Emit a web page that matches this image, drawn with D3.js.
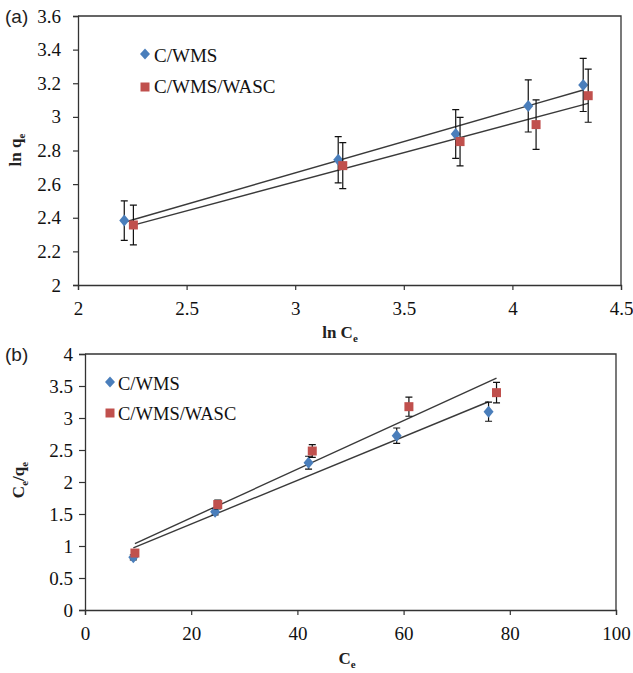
<!DOCTYPE html>
<html>
<head>
<meta charset="utf-8">
<script src="https://cdn.jsdelivr.net/npm/d3@7"></script>
<style>
  body { margin: 0; background: #fff; }
  svg { display: block; }
</style>
</head>
<body>
<svg id="chart" width="633" height="673"></svg>
<script>
// ---------- DATA ----------
const seriesNames = ["C/WMS", "C/WMS/WASC"];
const seriesColors = ["#4a7ebb", "#c0504d"];

// Panel (a): ln qe vs ln Ce
const aTicksX = [2, 2.5, 3, 3.5, 4, 4.5];
const aTicksY = [2, 2.2, 2.4, 2.6, 2.8, 3, 3.2, 3.4, 3.6];
const aWmsX = [2.213, 3.198, 3.739, 4.073, 4.326];
const aWmsY = [2.383, 2.745, 2.898, 3.065, 3.190];
const aWmsErr = [0.117, 0.137, 0.145, 0.155, 0.158];
const aWascX = [2.255, 3.219, 3.759, 4.109, 4.349];
const aWascY = [2.357, 2.710, 2.853, 2.954, 3.126];
const aWascErr = [0.118, 0.137, 0.144, 0.147, 0.158];

// Panel (b): Ce/qe vs Ce
const bTicksX = [0, 20, 40, 60, 80, 100];
const bTicksY = [0, 0.5, 1, 1.5, 2, 2.5, 3, 3.5, 4];
const bWmsX = [9.1, 24.5, 42.1, 58.7, 76.0];
const bWmsY = [0.823, 1.536, 2.302, 2.724, 3.099];
const bWmsErr = [0.04, 0.05, 0.10, 0.12, 0.15];
const bWascX = [9.4, 25.0, 42.8, 61.0, 77.5];
const bWascY = [0.890, 1.648, 2.484, 3.177, 3.396];
const bWascErr = [0.04, 0.07, 0.10, 0.15, 0.16];

// ---------- DRAW ----------
const svg = d3.select("#chart");
const serif = "Liberation Serif";
const sans = "Liberation Sans";
const axisColor = "#333";

function linFit(xs, ys) {
  const n = xs.length;
  const mx = d3.mean(xs), my = d3.mean(ys);
  let sxy = 0, sxx = 0;
  for (let i = 0; i < n; i++) { sxy += (xs[i]-mx)*(ys[i]-my); sxx += (xs[i]-mx)**2; }
  const b = sxy / sxx;
  return x => my + b*(x - mx);
}

function panel(cfg) {
  const g = svg.append("g");
  const x = d3.scaleLinear().domain(d3.extent(cfg.ticksX)).range([cfg.left, cfg.right]);
  const y = d3.scaleLinear().domain(d3.extent(cfg.ticksY)).range([cfg.bottom, cfg.top]);

  // axes
  const ax = g.append("g").attr("transform", `translate(0,${cfg.bottom})`)
    .call(d3.axisBottom(x).tickValues(cfg.ticksX).tickSize(5).tickPadding(12).tickFormat(d => String(d)));
  const ay = g.append("g").attr("transform", `translate(${cfg.left},0)`)
    .call(d3.axisLeft(y).tickValues(cfg.ticksY).tickSize(cfg.yTick).tickPadding(cfg.yPad).tickFormat(d => String(d)));
  [ax, ay].forEach(a => {
    a.attr("font-family", null).attr("font-size", null);
    a.select(".domain").attr("stroke", axisColor).attr("stroke-width", 1.3);
    a.selectAll(".tick line").attr("stroke", axisColor).attr("stroke-width", 1.2);
    a.selectAll(".tick text").attr("fill", "#111")
      .style("font-family", serif).style("font-size", "19px");
  });
  // box top/right
  g.append("path")
    .attr("d", `M${cfg.left},${cfg.top}H${cfg.right}V${cfg.bottom}`)
    .attr("fill", "none").attr("stroke", axisColor).attr("stroke-width", 1.3);

  // trend lines
  cfg.series.forEach(s => {
    const f = linFit(s.x, s.y);
    const [x0, x1] = d3.extent(s.x);
    g.append("line")
      .attr("x1", x(x0)).attr("y1", y(f(x0)))
      .attr("x2", x(x1)).attr("y2", y(f(x1)))
      .attr("stroke", "#3a3a3a").attr("stroke-width", 1.4);
  });

  // error bars + markers
  cfg.series.forEach((s, si) => {
    s.x.forEach((xv, i) => {
      const px = x(xv), yt = y(s.y[i] + s.err[i]), yb = y(s.y[i] - s.err[i]);
      g.append("path")
        .attr("d", `M${px},${yt}V${yb}M${px-3.5},${yt}H${px+3.5}M${px-3.5},${yb}H${px+3.5}`)
        .attr("fill", "none").attr("stroke", "#111").attr("stroke-width", 1.2);
    });
    g.selectAll(null).data(s.x.map((xv, i) => [xv, s.y[i]])).enter()
      .append("path")
      .attr("transform", d => `translate(${x(d[0])},${y(d[1])})`)
      .attr("d", si === 0 ? "M0,-6L5,0L0,6L-5,0Z" : "M-4.5,-4.5H4.5V4.5H-4.5Z")
      .attr("fill", seriesColors[si]);
  });

  // legend
  cfg.legend.forEach((L, si) => {
    g.append("path")
      .attr("transform", `translate(${L.mx},${L.my})`)
      .attr("d", si === 0 ? "M0,-5.5L5,0L0,5.5L-5,0Z" : "M-4.5,-4.5H4.5V4.5H-4.5Z")
      .attr("fill", seriesColors[si]);
    g.append("text").attr("x", L.tx).attr("y", L.ty)
      .style("font-family", serif).style("font-size", cfg.legendSize + "px").attr("fill", "#111")
      .text(seriesNames[si]);
  });

  // panel label
  g.append("text").attr("x", 5).attr("y", cfg.labelY)
    .style("font-family", sans).style("font-size", "19px").attr("fill", "#222")
    .text(cfg.label);

  // x title
  const xt = g.append("text").attr("x", cfg.xTitleX).attr("y", cfg.xTitleY)
    .attr("text-anchor", "middle")
    .style("font-family", serif).style("font-size", "17px").style("font-weight", "bold").attr("fill", "#222");
  xt.append("tspan").text(cfg.xTitle[0]);
  xt.append("tspan").attr("dy", 4).style("font-size", "11px").text(cfg.xTitle[1]);

  // y title
  const yt = g.append("text")
    .attr("transform", `translate(${cfg.yTitleX},${cfg.yTitleY}) rotate(-90)`)
    .attr("text-anchor", "middle")
    .style("font-family", serif).style("font-size", "17px").style("font-weight", "bold").attr("fill", "#222");
  cfg.yTitle.forEach((t, i) => {
    const ts = yt.append("tspan").text(t);
    if (i % 2 === 1) ts.attr("dy", 4).style("font-size", "11px");
    else if (i > 0) ts.attr("dy", -4);
  });
}

panel({
  left: 78, right: 621, top: 16, bottom: 285,
  ticksX: aTicksX, ticksY: aTicksY, yTick: 5, yPad: 12,
  series: [
    { x: aWmsX, y: aWmsY, err: aWmsErr },
    { x: aWascX, y: aWascY, err: aWascErr }
  ],
  legend: [
    { mx: 145, my: 54, tx: 154, ty: 62 },
    { mx: 145, my: 87, tx: 154, ty: 93 }
  ],
  legendSize: 19,
  label: "(a)", labelY: 23,
  xTitle: ["ln C", "e"], xTitleX: 340, xTitleY: 338,
  yTitle: ["ln q", "e"], yTitleX: 21, yTitleY: 150
});

panel({
  left: 85, right: 616, top: 354, bottom: 610,
  ticksX: bTicksX, ticksY: bTicksY, yTick: 6, yPad: 6,
  series: [
    { x: bWmsX, y: bWmsY, err: bWmsErr },
    { x: bWascX, y: bWascY, err: bWascErr }
  ],
  legend: [
    { mx: 110, my: 382, tx: 118, ty: 390 },
    { mx: 110, my: 413, tx: 118, ty: 420 }
  ],
  legendSize: 18.5,
  label: "(b)", labelY: 361,
  xTitle: ["C", "e"], xTitleX: 347, xTitleY: 664,
  yTitle: ["C", "e", "/q", "e"], yTitleX: 24, yTitleY: 480
});
</script>
</body>
</html>
